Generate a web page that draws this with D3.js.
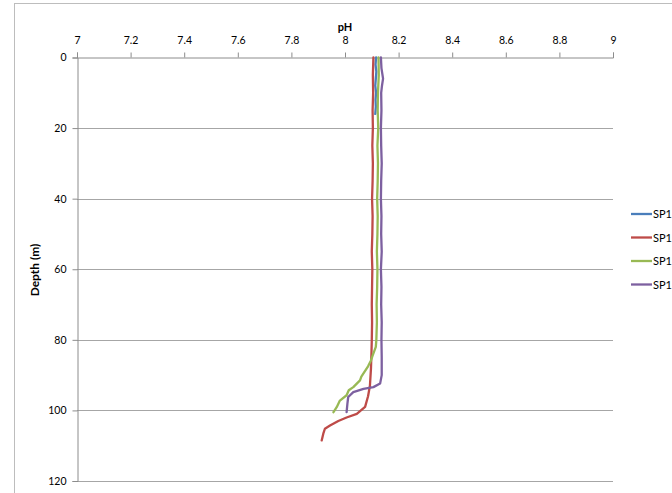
<!DOCTYPE html>
<html><head><meta charset="utf-8">
<script src="https://cdn.jsdelivr.net/npm/d3@7"></script>
<style>body{margin:0;background:#fff}svg{display:block}text{font-family:Lato,"Open Sans",sans-serif}</style>
</head><body><svg id="c" width="672" height="493"></svg>
<script>
const xTicks = [7,7.2,7.4,7.6,7.8,8,8.2,8.4,8.6,8.8,9];
const yTicks = [0,20,40,60,80,100,120];
const seriesNames = ["SP1","SP1","SP1","SP1"];
const seriesColors = ["#4A7EBB","#BE4B48","#98B954","#7D60A0"];

const blueDepth = [0,2,4,6,8,10,12,14,16];
const bluePH    = [8.116,8.114,8.117,8.115,8.113,8.116,8.114,8.115,8.113];

const redDepth = [0,5,10,15,20,25,30,35,40,45,50,55,60,65,70,75,80,83,88,93,96,99,101,102,103,104.3,105.2,106.6,108.5];
const redPH    = [8.106,8.104,8.105,8.103,8.104,8.102,8.104,8.103,8.101,8.103,8.102,8.100,8.102,8.101,8.100,8.101,8.100,8.099,8.097,8.093,8.086,8.075,8.044,8.006,7.975,7.944,7.925,7.919,7.913];

const greenDepth = [0,5,10,15,20,25,30,35,40,45,50,55,60,65,70,75,80,82,84.5,86,87.5,90.4,91.5,93.4,94.3,95.7,97.2,99.1,100.5];
const greenPH    = [8.125,8.126,8.123,8.122,8.124,8.121,8.123,8.122,8.120,8.122,8.121,8.119,8.121,8.120,8.118,8.119,8.117,8.115,8.103,8.096,8.086,8.061,8.056,8.031,8.014,8.006,7.981,7.969,7.957];

const purpleDepth = [0,3,6,8,10,15,20,25,30,35,40,45,50,55,60,65,70,75,80,85,90,92.4,93.4,93.9,94.8,96.2,98.1,100.5];
const purplePH    = [8.134,8.136,8.142,8.138,8.135,8.136,8.134,8.135,8.137,8.135,8.134,8.136,8.135,8.137,8.134,8.136,8.135,8.137,8.136,8.137,8.137,8.131,8.106,8.069,8.031,8.012,8.009,8.006];

const series = [
  {d: blueDepth, p: bluePH},
  {d: redDepth, p: redPH},
  {d: greenDepth, p: greenPH},
  {d: purpleDepth, p: purplePH}
];

const svg = d3.select("#c");
svg.append("rect").attr("x",14.5).attr("y",3.5).attr("width",700).attr("height",520)
  .attr("fill","none").attr("stroke","#bdbdbd").attr("stroke-width",1);

const x = d3.scaleLinear().domain([7,9]).range([77,613]);
const y = d3.scaleLinear().domain([0,120]).range([57.5,481]);

svg.append("g").selectAll("line").data(yTicks.slice(1)).join("line")
  .attr("x1",77).attr("x2",613)
  .attr("y1",d=>Math.round(y(d))+0.5).attr("y2",d=>Math.round(y(d))+0.5)
  .attr("stroke","#a6a6a6").attr("stroke-width",1);

const gx = svg.append("g").attr("transform","translate(0,57.5)")
  .call(d3.axisTop(x).tickValues(xTicks).tickFormat(d=>d3.format("")(d)).tickSize(5).tickPadding(9));
gx.select(".domain").attr("stroke","#8c8c8c");
gx.selectAll(".tick line").attr("stroke","#8c8c8c");
gx.selectAll("text").attr("font-size",10.5).attr("fill","#000");

const gy = svg.append("g").attr("transform","translate(77.5,0)")
  .call(d3.axisLeft(y).tickValues(yTicks).tickSize(5).tickPadding(6));
gy.select(".domain").attr("stroke","#8c8c8c");
gy.selectAll(".tick line").attr("stroke","#8c8c8c");
gy.selectAll("text").attr("font-size",10.5).attr("fill","#000");

svg.append("text").attr("x",345).attr("y",31).attr("text-anchor","middle")
  .attr("font-size",11).attr("font-weight","bold").text("pH");
svg.append("text").attr("transform","translate(39,270) rotate(-90)").attr("text-anchor","middle")
  .attr("font-size",12).attr("font-weight","bold").text("Depth (m)");

const line = d3.line().x(d=>x(d[1])).y(d=>y(d[0]));
series.forEach((s,i)=>{
  const pts = s.d.map((d,j)=>[d,s.p[j]]);
  svg.append("path").attr("d",line(pts)).attr("fill","none")
    .attr("stroke",seriesColors[i]).attr("stroke-width",2.3)
    .attr("stroke-linejoin","round").attr("stroke-linecap","round");
});

const lg = svg.append("g");
seriesNames.forEach((n,i)=>{
  const ly = 214 + i*23.5;
  lg.append("line").attr("x1",631).attr("x2",652).attr("y1",ly).attr("y2",ly)
    .attr("stroke",seriesColors[i]).attr("stroke-width",2.3);
  lg.append("text").attr("x",653).attr("y",ly+4).attr("font-size",11).attr("fill","#000").text(n);
});
</script></body></html>
